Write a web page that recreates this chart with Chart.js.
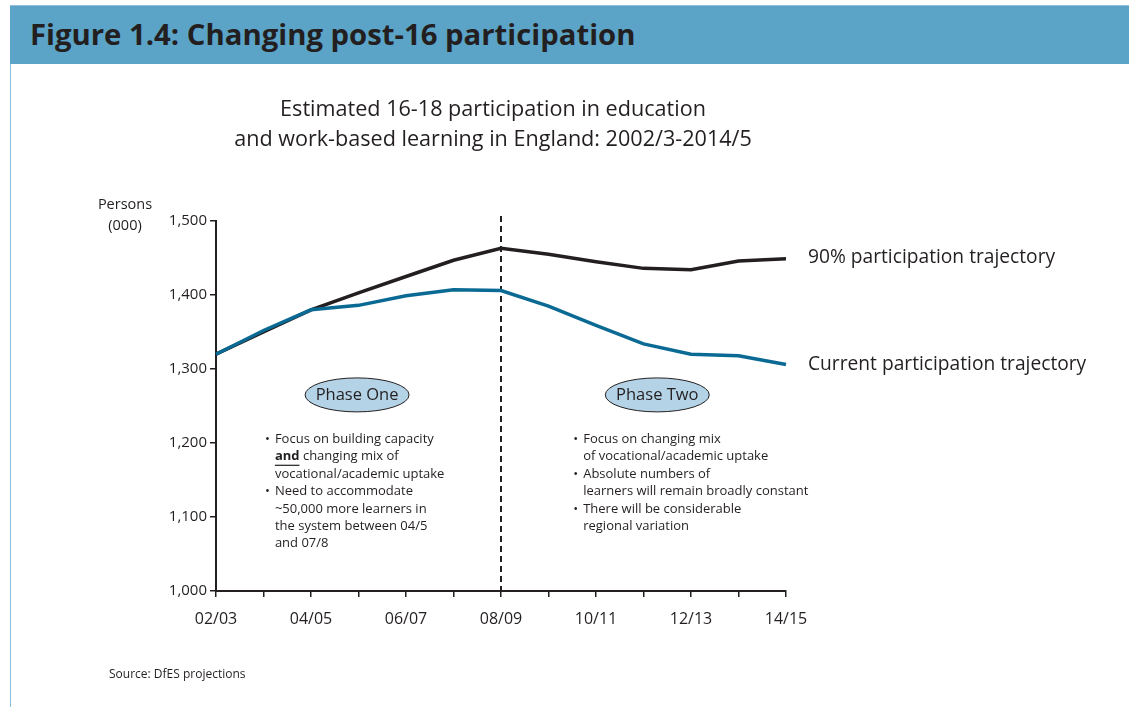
<!DOCTYPE html>
<html>
<head>
<meta charset="utf-8">
<script src="https://cdn.jsdelivr.net/npm/chart.js@4"></script>
<style>
  body { margin: 0; width: 1129px; height: 707px; overflow: hidden; background: #fff; font-family: "Open Sans", sans-serif; }
  #band { position: absolute; left: 10px; top: 5px; width: 1119px; height: 58px; background: #5ba4c8; border-top: 1px solid #8cc0dc; }
  #band span { position: absolute; left: 20px; top: 8px; font-weight: bold; font-size: 29px; color: #231f20; white-space: nowrap; transform-origin: left center; }
  #edge { position: absolute; left: 10px; top: 64px; width: 1px; height: 643px; background: #8cc0dc; }
  #wrap { position: absolute; left: 0; top: 0; width: 1129px; height: 707px; }
</style>
</head>
<body>
<div id="band"><span id="fig">Figure 1.4: Changing post-16 participation</span></div>
<div id="edge"></div>
<div id="wrap"><canvas id="c" width="1129" height="707"></canvas></div>
<script>
// academic years, 2002/3 to 2014/5
const periods = ['02/03', '03/04', '04/05', '05/06', '06/07', '07/08', '08/09', '09/10', '10/11', '11/12', '12/13', '13/14', '14/15'];
// persons (000)
const current = [1320, 1352, 1380, 1386, 1399, 1407, 1406, 1385, 1359, 1334, 1320, 1318, 1306];
const target90 = [1320, 1350, 1380, 1403, 1425, 1447, 1463, 1455, 1445, 1436, 1434, 1446, 1449];
const yTicks = [1000, 1100, 1200, 1300, 1400, 1500];

const phaseOne = ['Focus on building capacity', '@and changing mix of', 'vocational/academic uptake', 'Need to accommodate', '~50,000 more learners in', 'the system between 04/5', 'and 07/8'];
const phaseOneBullets = [0, 3];
const phaseTwo = ['Focus on changing mix', 'of vocational/academic uptake', 'Absolute numbers of', 'learners will remain broadly constant', 'There will be considerable', 'regional variation'];
const phaseTwoBullets = [0, 2, 4];

// squeeze the heading to the reference width
const fig = document.getElementById('fig');
fig.style.transform = 'scaleX(' + (606 / fig.offsetWidth) + ')';

const ink = '#231f20';
const font = '"Open Sans", sans-serif';
const small = '13px ' + font;

function bullets(ctx, lines, marks, x, y) {
  ctx.font = small;
  ctx.textBaseline = 'middle';
  ctx.textAlign = 'left';
  lines.forEach((t, i) => {
    const yy = y + i * 17.4;
    if (marks.includes(i)) ctx.fillText('•', x - 10, yy);
    if (t[0] === '@') {
      const w = t.slice(1).split(' ')[0];
      ctx.font = 'bold ' + small;
      ctx.fillText(w, x, yy);
      const ww = ctx.measureText(w).width;
      ctx.fillRect(x, yy + 8, ww, 1.2);
      ctx.font = small;
      ctx.fillText(t.slice(1 + w.length), x + ww, yy);
    } else {
      ctx.fillText(t, x, yy);
    }
  });
}

function phase(ctx, label, cx, cy) {
  ctx.beginPath();
  ctx.ellipse(cx, cy, 52, 17, 0, 0, Math.PI * 2);
  ctx.fillStyle = '#b4d3e6';
  ctx.fill();
  ctx.lineWidth = 1;
  ctx.strokeStyle = ink;
  ctx.stroke();
  ctx.fillStyle = ink;
  ctx.font = '16.5px ' + font;
  ctx.textAlign = 'center';
  ctx.textBaseline = 'middle';
  ctx.fillText(label, cx, cy);
}

const extras = {
  id: 'extras',
  beforeDatasetsDraw(chart) {
    const { ctx, scales: { x, y } } = chart;
    const px = x.getPixelForValue(6);
    ctx.save();
    ctx.strokeStyle = ink;
    ctx.lineWidth = 2;
    ctx.setLineDash([6, 4]);
    ctx.beginPath();
    ctx.moveTo(px, y.top - 5);
    ctx.lineTo(px, y.bottom);
    ctx.stroke();
    ctx.restore();
  },
  afterDraw(chart) {
    const { ctx, scales: { x, y } } = chart;
    ctx.save();
    ctx.fillStyle = ink;
    // chart title
    ctx.font = '21.6px ' + font;
    ctx.textAlign = 'center';
    ctx.textBaseline = 'middle';
    ctx.fillText('Estimated 16-18 participation in education', 493, 110);
    ctx.fillText('and work-based learning in England: 2002/3-2014/5', 493, 140);
    // y-axis unit
    ctx.font = '14.5px ' + font;
    ctx.fillText('Persons', 125, 205);
    ctx.fillText('(000)', 125, 226);
    // series names at the line ends
    ctx.font = '19.2px ' + font;
    ctx.textAlign = 'left';
    const last = periods.length - 1;
    ctx.fillText('90% participation trajectory', x.getPixelForValue(last) + 22, y.getPixelForValue(target90[last]) - 1);
    ctx.fillText('Current participation trajectory', x.getPixelForValue(last) + 22, y.getPixelForValue(current[last]));
    // phases
    phase(ctx, 'Phase One', x.getPixelForValue(2.97), y.getPixelForValue(1265));
    phase(ctx, 'Phase Two', x.getPixelForValue(9.29), y.getPixelForValue(1265));
    ctx.fillStyle = ink;
    bullets(ctx, phaseOne, phaseOneBullets, x.getPixelForValue(1.24), y.getPixelForValue(1205));
    bullets(ctx, phaseTwo, phaseTwoBullets, x.getPixelForValue(7.73), y.getPixelForValue(1205));
    // source
    ctx.font = '12px ' + font;
    ctx.textAlign = 'left';
    ctx.fillText('Source: DfES projections', 109, 675);
    ctx.restore();
  }
};

new Chart(document.getElementById('c'), {
  type: 'line',
  data: {
    labels: periods,
    datasets: [
      { label: 'Current participation trajectory', data: current, borderColor: '#0a6a93', borderWidth: 3.5, pointRadius: 0, tension: 0 },
      { label: '90% participation trajectory', data: target90, borderColor: ink, borderWidth: 3.5, pointRadius: 0, tension: 0 }
    ]
  },
  options: {
    responsive: false,
    animation: false,
    events: [],
    layout: { padding: { left: 0, top: 221, right: 1129 - 786, bottom: 0 } },
    plugins: { legend: { display: false }, tooltip: { enabled: false } },
    scales: {
      x: {
        afterFit(s) { s.height = 707 - 591; },
        grid: { drawOnChartArea: false, drawTicks: true, tickLength: 6, color: ink, lineWidth: 1.5 },
        border: { color: ink, width: 2 },
        ticks: {
          autoSkip: false, maxRotation: 0, padding: 13, color: ink,
          font: { family: font, size: 16 },
          callback: (v, i) => (i % 2 === 0 ? periods[i] : '')
        }
      },
      y: {
        min: yTicks[0], max: yTicks[yTicks.length - 1],
        afterFit(s) { s.width = 216; },
        afterBuildTicks(s) { s.ticks = yTicks.map(v => ({ value: v })); },
        grid: { drawOnChartArea: false, drawTicks: true, tickLength: 6, color: ink, lineWidth: 1.5 },
        border: { color: ink, width: 2 },
        ticks: {
          padding: 3, color: ink,
          font: { family: font, size: 15 },
          callback: v => v.toLocaleString('en-US')
        }
      }
    }
  },
  plugins: [extras]
});
</script>
</body>
</html>
